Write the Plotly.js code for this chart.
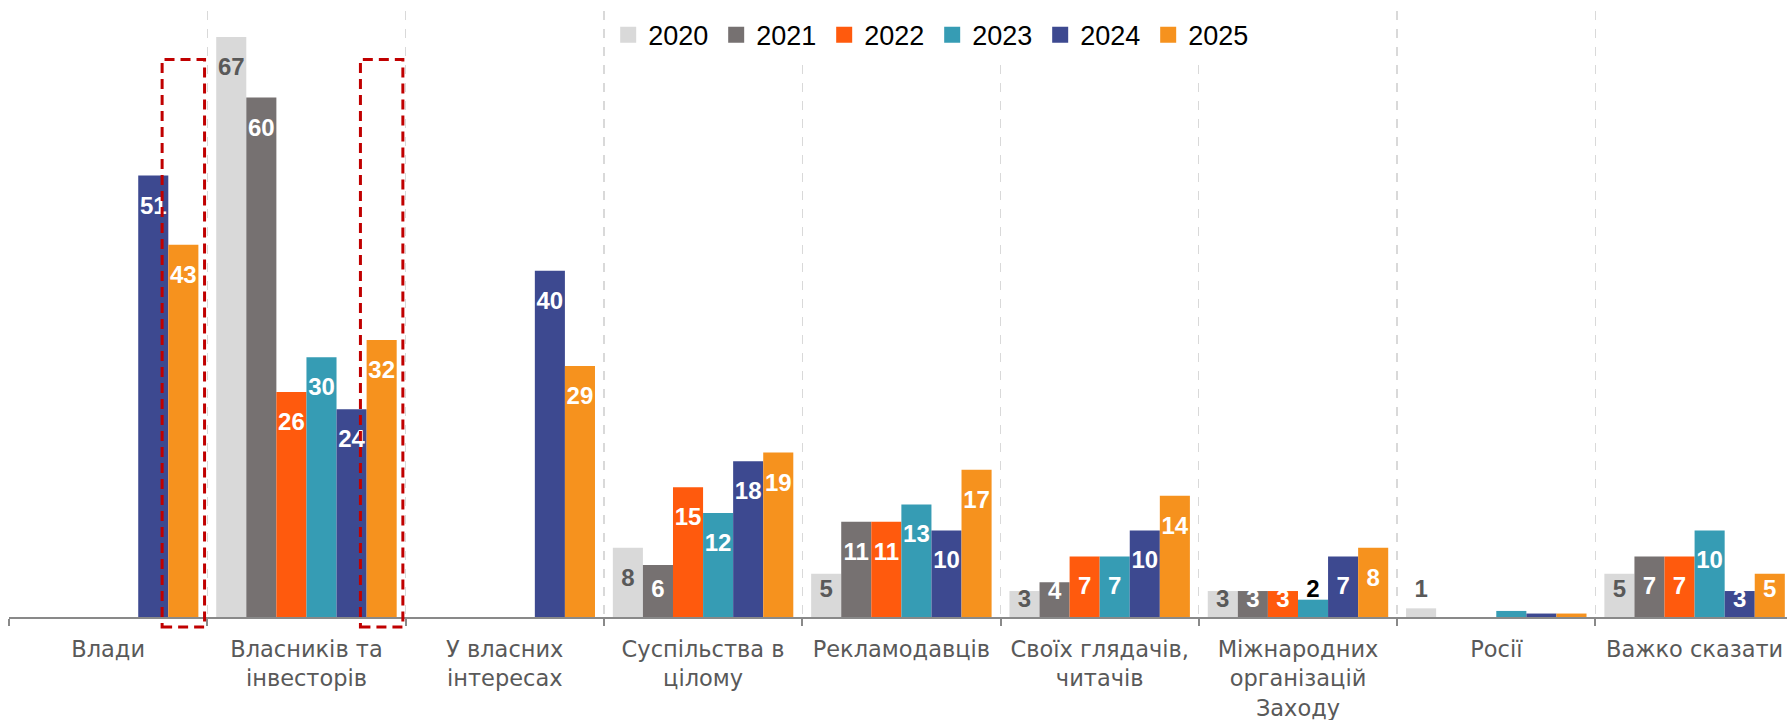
<!DOCTYPE html>
<html>
<head>
<meta charset="utf-8">
<script src="https://cdn.plot.ly/plotly-3.0.1.min.js"></script>
<style>
  html, body { margin: 0; padding: 0; background: #ffffff; }
  #chart { width: 1787px; height: 720px; }
</style>
</head>
<body>
<div id="chart"></div>
<script>
// ---- data ----
const categories = [
  'Влади',
  'Власників та<br>інвесторів',
  'У власних<br>інтересах',
  'Суспільства в<br>цілому',
  'Рекламодавців',
  'Своїх глядачів,<br>читачів',
  'Міжнародних<br>організацій<br>Заходу',
  'Росії',
  'Важко сказати'
];
const years = ['2020', '2021', '2022', '2023', '2024', '2025'];

const v2020 = [null, 67, null, 8, 5, 3, 3, 1, 5];
const v2021 = [null, 60, null, 6, 11, 4, 3, null, 7];
const v2022 = [null, 26, null, 15, 11, 7, 3, null, 7];
const v2023 = [null, 30, null, 12, 13, 7, 2, 0.7, 10];
const v2024 = [51, 24, 40, 18, 10, 10, 7, 0.4, 3];
const v2025 = [43, 32, 29, 19, 17, 14, 8, 0.4, 5];

const highlightCategories = ['Влади', 'Власників та<br>інвесторів'];
const highlightYear = '2025';

// ---- styling ----
const seriesValues = [v2020, v2021, v2022, v2023, v2024, v2025];
const colors = ['#D9D9D9', '#767171', '#FF5A0D', '#369CB4', '#3D4990', '#F6921E'];
const bargap = 0.09;

function labelY(v) {
  if (v === null) return null;
  if (v < 2.5) return 3.0;
  return Math.max(v - 3.7, Math.min(3.0, v - 1.2));
}
function labelText(v) {
  return (v !== null && v >= 1) ? String(v) : '';
}
function labelColor(v, si) {
  if (si === 0) return '#595959';
  if (v !== null && v < 2.5) return '#000000';
  return '#FFFFFF';
}

const traces = [];
seriesValues.forEach((vals, si) => {
  traces.push({
    type: 'bar',
    name: years[si],
    x: categories,
    y: vals,
    marker: { color: colors[si], line: { width: 0 } },
    showlegend: false,
    hoverinfo: 'x+y+name'
  });
});
seriesValues.forEach((vals, si) => {
  traces.push({
    type: 'scatter',
    mode: 'text',
    orientation: 'v',
    x: categories,
    y: vals.map(labelY),
    text: vals.map(labelText),
    textposition: 'middle center',
    textfont: {
      family: 'Liberation Sans, Arial, sans-serif',
      size: 24,
      weight: 'bold',
      color: vals.map(v => labelColor(v, si))
    },
    cliponaxis: false,
    showlegend: false,
    hoverinfo: 'skip'
  });
});
// legend entries (square swatches) on a hidden overlay subplot
years.forEach((yr, si) => {
  traces.push({
    type: 'scatter',
    mode: 'markers',
    name: yr,
    x: [0],
    y: [0],
    xaxis: 'x2',
    yaxis: 'y2',
    marker: { symbol: 'square', size: 16, color: colors[si] },
    hoverinfo: 'skip'
  });
});

// highlight boxes around the highlighted year's bars
const nS = years.length;
const w = (1 - bargap) / nS;
const hs = years.indexOf(highlightYear);
const shapes = highlightCategories.map(c => {
  const ci = categories.indexOf(c);
  const center = ci - 0.5 + bargap / 2 + (hs + 0.5) * w;
  const half = 0.107;
  return {
    type: 'rect',
    xref: 'x', yref: 'paper',
    x0: center - half, x1: center + half,
    y0: -0.0165, y1: 0.92,
    line: { color: '#C00000', width: 3, dash: '10px,6px' },
    fillcolor: 'rgba(0,0,0,0)',
    layer: 'above'
  };
});

const layout = {
  width: 1787,
  height: 720,
  margin: { l: 9, r: 0, t: 11, b: 103 },
  paper_bgcolor: '#ffffff',
  plot_bgcolor: '#ffffff',
  barmode: 'group',
  bargap: bargap,
  bargroupgap: 0,
  scattermode: 'group',
  scattergap: bargap,
  showlegend: true,
  legend: {
    orientation: 'h',
    x: 0.337, xanchor: 'left',
    y: 0.96, yanchor: 'middle',
    bgcolor: '#ffffff',
    borderwidth: 0,
    entrywidth: 63,
    font: { family: 'Liberation Sans, Arial, sans-serif', size: 27, color: '#000000' },
    traceorder: 'normal'
  },
  xaxis: {
    type: 'category',
    range: [-0.5, 8.466],
    tickson: 'boundaries',
    ticks: 'outside',
    ticklen: 7,
    tickwidth: 2,
    tickcolor: '#898989',
    showline: true,
    linecolor: '#898989',
    linewidth: 2,
    showgrid: true,
    gridcolor: '#D9D9D9',
    gridwidth: 1.3,
    griddash: 'dash',
    zeroline: false,
    tickfont: { family: 'DejaVu Sans, sans-serif', size: 22.5, color: '#595959' },
    ticklabelstandoff: 11,
    automargin: false,
    fixedrange: true
  },
  yaxis: {
    range: [0, 70],
    visible: false,
    showgrid: false,
    zeroline: false,
    fixedrange: true
  },
  xaxis2: { overlaying: 'x', anchor: 'y2', visible: false, range: [10, 11], fixedrange: true },
  yaxis2: { overlaying: 'y', anchor: 'x2', visible: false, range: [10, 11], fixedrange: true },
  shapes: shapes
};

Plotly.newPlot('chart', traces, layout, { displayModeBar: false, staticPlot: true });
</script>
</body>
</html>
